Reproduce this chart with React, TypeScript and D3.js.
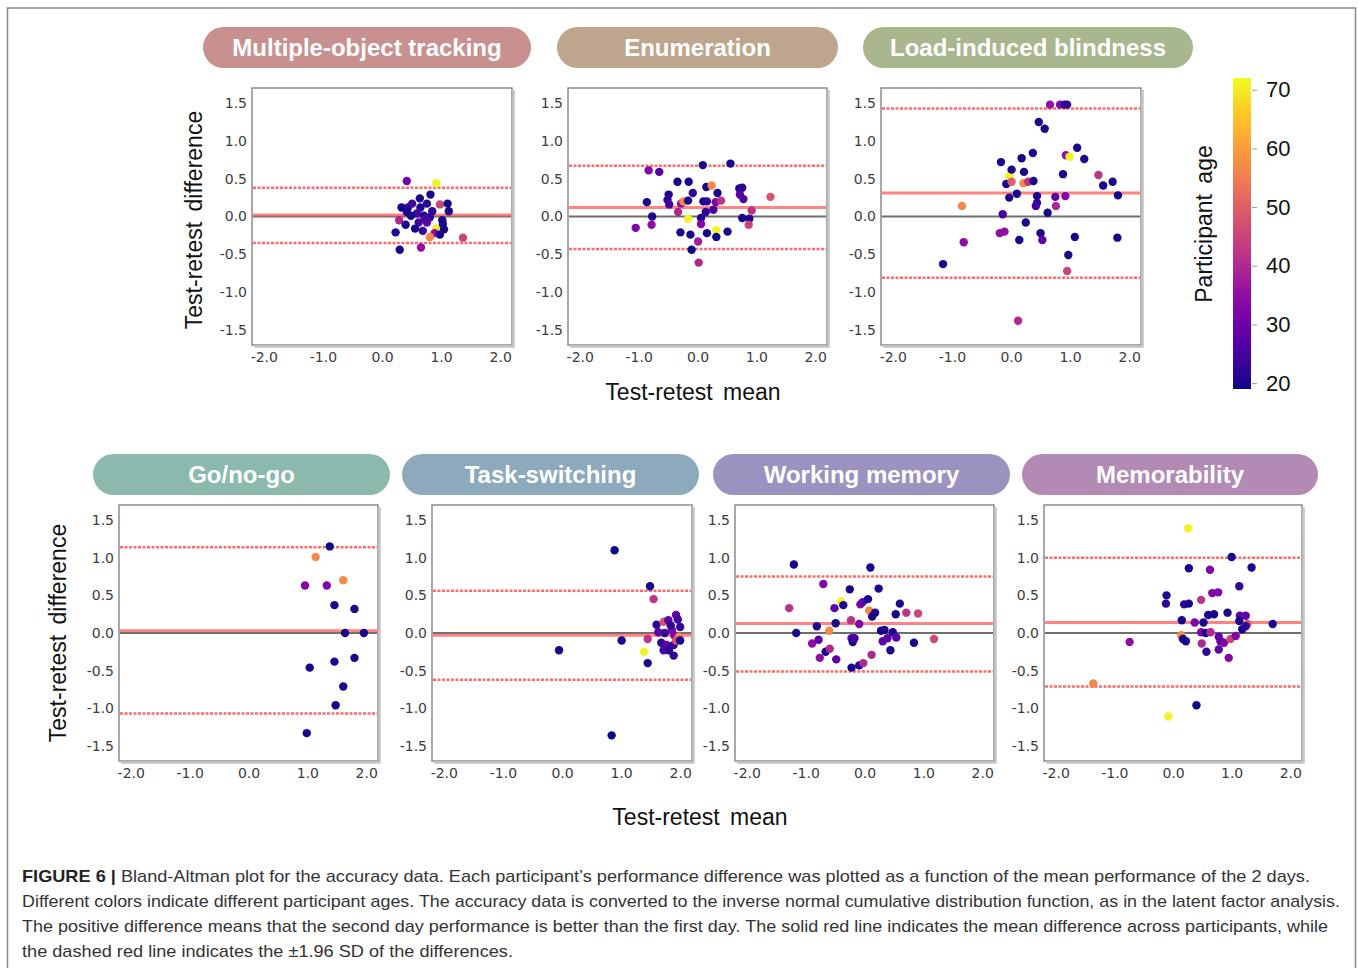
import React, { useEffect, useRef } from 'react';
import * as d3 from 'd3';

const titles = [
  'Multiple-object tracking',
  'Enumeration',
  'Load-induced blindness',
  'Go/no-go',
  'Task-switching',
  'Working memory',
  'Memorability',
];

// each point: [test-retest mean, test-retest difference, participant age]
const motPoints = [
  [0.42, 0.47, 30], [0.92, 0.44, 71], [0.82, 0.29, 20], [0.64, 0.24, 20], [0.33, 0.12, 20],
  [0.44, 0.12, 22], [0.51, 0.17, 25], [0.76, 0.17, 22], [0.98, 0.16, 45], [1.11, 0.17, 20],
  [1.13, 0.07, 20], [0.65, 0.12, 20], [0.85, 0.07, 22], [0.42, 0.06, 20], [0.59, 0.04, 25],
  [0.71, 0.01, 20], [0.81, -0.01, 22], [0.49, 0.01, 20], [1.02, -0.05, 20], [0.29, -0.05, 40],
  [0.40, -0.11, 20], [0.62, -0.08, 25], [0.76, -0.08, 28], [0.56, -0.16, 20], [0.69, -0.19, 22],
  [0.92, -0.16, 71], [0.89, -0.22, 35], [1.05, -0.17, 20], [0.98, -0.24, 20], [0.81, -0.27, 57],
  [0.23, -0.21, 20], [0.30, -0.44, 20], [0.66, -0.41, 35], [1.37, -0.28, 45], [1.03, -0.10, 20],
  [0.73, -0.03, 25],
];

const enumPoints = [
  [-1.05, -0.15, 33], [-0.86, 0.19, 20], [-0.83, 0.61, 33], [-0.65, 0.59, 27], [-0.77, 0.0, 20],
  [-0.78, -0.11, 35], [-0.49, 0.29, 20], [-0.51, 0.22, 22], [-0.48, 0.16, 25], [-0.34, 0.46, 20],
  [-0.33, 0.06, 40], [-0.28, 0.17, 35], [-0.24, 0.2, 57], [-0.29, -0.21, 20], [-0.16, 0.21, 20],
  [-0.15, 0.46, 20], [-0.16, -0.03, 71], [-0.08, 0.31, 22], [-0.12, -0.24, 20], [-0.10, -0.44, 19],
  [0.01, -0.33, 38], [0.02, -0.61, 40], [0.06, -0.02, 20], [0.06, -0.10, 33], [0.09, 0.68, 20],
  [0.10, 0.20, 20], [0.15, 0.39, 20], [0.16, 0.20, 22], [0.14, 0.06, 22], [0.16, -0.22, 20],
  [0.24, 0.41, 57], [0.27, 0.09, 25], [0.31, 0.19, 33], [0.34, 0.31, 20], [0.32, -0.18, 71],
  [0.32, -0.27, 19], [0.40, 0.21, 42], [0.51, -0.20, 20], [0.56, 0.70, 20], [0.71, 0.37, 20],
  [0.76, 0.38, 22], [0.72, 0.29, 28], [0.78, 0.23, 25], [0.76, -0.02, 20], [0.88, -0.03, 20],
  [0.87, -0.11, 45], [0.92, 0.08, 42], [1.24, 0.26, 48],
];

const libPoints = [
  [-1.15, -0.63, 20], [-0.80, -0.34, 35], [-0.83, 0.14, 57], [-0.17, 0.72, 20], [-0.14, 0.03, 25],
  [-0.19, -0.22, 35], [-0.11, -0.20, 35], [-0.08, 0.43, 20], [-0.03, 0.54, 71], [0.01, 0.46, 50],
  [0.01, 0.62, 20], [-0.03, 0.25, 20], [0.10, 0.30, 20], [0.14, -0.31, 20], [0.18, 0.77, 20],
  [0.22, 0.59, 20], [0.21, 0.44, 57], [0.25, -0.08, 20], [0.29, 0.46, 42], [0.38, 0.47, 20],
  [0.37, 0.84, 20], [0.44, 0.27, 20], [0.44, 0.18, 22], [0.42, 0.14, 25], [0.47, 1.25, 20],
  [0.57, 1.16, 20], [0.50, -0.22, 20], [0.53, -0.31, 28], [0.62, 0.05, 20], [0.66, 1.48, 35],
  [0.75, 0.26, 28], [0.76, 0.14, 40], [0.83, 1.48, 33], [0.88, 0.56, 20], [0.91, 1.48, 20],
  [0.95, 1.48, 22], [0.92, 0.27, 33], [0.93, 0.81, 35], [0.99, 0.79, 71], [0.95, -0.72, 45],
  [0.97, -0.51, 20], [1.12, 0.91, 20], [1.08, -0.27, 20], [1.24, 0.76, 20], [1.48, 0.55, 42],
  [1.56, 0.41, 20], [1.72, 0.46, 20], [1.81, 0.28, 20], [1.80, -0.28, 20], [0.12, -1.38, 40],
];

const goPoints = [
  [1.38, 1.15, 19], [1.14, 1.01, 57], [0.96, 0.63, 33], [1.33, 0.63, 33], [1.61, 0.70, 57],
  [1.46, 0.37, 20], [1.80, 0.32, 20], [1.64, 0.0, 20], [1.96, 0.0, 20], [1.04, -0.46, 20],
  [1.46, -0.38, 20], [1.80, -0.33, 20], [1.61, -0.71, 20], [1.48, -0.96, 20], [0.99, -1.33, 20],
];

const tsPoints = [
  [-0.05, -0.23, 20], [0.89, 1.10, 19], [0.84, -1.36, 19], [1.01, -0.10, 20], [1.49, 0.62, 20],
  [1.55, 0.45, 42], [1.45, -0.08, 42], [1.39, -0.25, 71], [1.45, -0.40, 20], [1.60, 0.11, 22],
  [1.72, 0.15, 48], [1.80, 0.17, 28], [1.93, 0.24, 28], [1.96, 0.18, 25], [2.0, 0.08, 22],
  [1.86, 0.04, 33], [1.74, 0.0, 22], [1.90, -0.03, 33], [1.98, -0.05, 57], [1.68, -0.13, 22],
  [1.77, -0.16, 28], [1.89, -0.16, 22], [1.93, -0.10, 48], [2.0, -0.10, 20], [1.72, -0.23, 25],
  [1.81, -0.23, 22], [1.89, -0.30, 22], [1.63, 0.01, 28], [1.84, 0.10, 22],
];

const wmPoints = [
  [-1.20, 0.91, 20], [-1.28, 0.33, 42], [-1.16, 0.0, 20], [-0.89, -0.14, 35], [-0.81, 0.09, 20],
  [-0.78, -0.09, 28], [-0.76, -0.33, 35], [-0.70, 0.65, 33], [-0.66, -0.25, 20], [-0.60, 0.03, 57],
  [-0.59, -0.21, 40], [-0.51, 0.33, 28], [-0.49, 0.13, 20], [-0.48, -0.35, 28], [-0.40, 0.42, 71],
  [-0.36, 0.37, 20], [-0.25, 0.58, 20], [-0.23, 0.17, 42], [-0.22, -0.07, 28], [-0.20, -0.12, 20],
  [-0.17, -0.07, 25], [-0.22, -0.46, 20], [-0.09, -0.43, 20], [-0.09, 0.12, 33], [-0.07, 0.38, 33],
  [-0.03, 0.41, 28], [-0.02, -0.40, 40], [0.06, 0.45, 20], [0.08, 0.30, 57], [0.10, 0.87, 20],
  [0.13, 0.22, 20], [0.12, -0.29, 40], [0.18, 0.27, 20], [0.24, 0.59, 20], [0.28, 0.03, 20],
  [0.34, 0.04, 20], [0.31, -0.11, 28], [0.39, -0.07, 28], [0.44, -0.23, 20], [0.48, 0.01, 20],
  [0.53, 0.25, 20], [0.54, -0.06, 28], [0.60, 0.39, 20], [0.71, 0.27, 42], [0.84, -0.13, 20],
  [0.91, 0.26, 45], [1.18, -0.08, 46],
];

const memPoints = [
  [0.26, 1.39, 71], [1.00, 1.01, 20], [0.27, 0.86, 20], [1.34, 0.87, 20], [0.63, 0.84, 33],
  [1.13, 0.62, 22], [-0.11, 0.50, 20], [-0.12, 0.39, 22], [0.48, 0.44, 42], [0.67, 0.53, 33],
  [0.77, 0.54, 33], [0.19, 0.38, 22], [0.27, 0.39, 20], [0.60, 0.24, 20], [0.70, 0.25, 20],
  [0.93, 0.27, 20], [1.14, 0.23, 28], [1.24, 0.23, 28], [0.15, 0.17, 20], [0.37, 0.14, 33],
  [0.52, 0.14, 20], [1.13, 0.16, 20], [1.27, 0.12, 48], [1.70, 0.12, 20], [1.18, 0.05, 20],
  [1.24, 0.09, 22], [0.48, 0.01, 33], [0.56, 0.0, 20], [0.64, 0.01, 40], [0.14, -0.03, 57],
  [0.17, -0.08, 20], [0.22, -0.11, 20], [0.78, -0.05, 28], [0.81, -0.11, 28], [0.87, -0.13, 33],
  [0.98, -0.08, 45], [1.07, -0.04, 33], [0.49, -0.14, 40], [0.57, -0.25, 22], [0.78, -0.22, 28],
  [0.95, -0.33, 33], [-0.74, -0.12, 35], [-1.36, -0.67, 57], [0.40, -0.96, 19], [-0.08, -1.11, 71],
];

const panelPoints = [motPoints, enumPoints, libPoints, goPoints, tsPoints, wmPoints, memPoints];
const meanDiffs = [0.02, 0.12, 0.31, 0.03, -0.03, 0.125, 0.14];
const upperLimits = [0.38, 0.67, 1.43, 1.14, 0.56, 0.75, 1.0];
const lowerLimits = [-0.35, -0.43, -0.81, -1.07, -0.62, -0.51, -0.71];

const xTicks = [-2, -1, 0, 1, 2];
const yTicks = [-1.5, -1, -0.5, 0, 0.5, 1, 1.5];
const ageTicks = [20, 30, 40, 50, 60, 70];
const ageRange = [19, 72];

const captionLines = [
  'Bland-Altman plot for the accuracy data. Each participant\u2019s performance difference was plotted as a function of the mean performance of the 2 days.',
  'Different colors indicate different participant ages. The accuracy data is converted to the inverse normal cumulative distribution function, as in the latent factor analysis.',
  'The positive difference means that the second day performance is better than the first day. The solid red line indicates the mean difference across participants, while',
  'the dashed red line indicates the \u00b11.96 SD of the differences.',
];

// layout: plot box and title pill for each panel
const layout = [
  { x: 252, y: 88, w: 260, h: 257, px0: 203, px1: 531, py: 27, fill: '#c8918f' },
  { x: 568, y: 88, w: 259, h: 257, px0: 557, px1: 838, py: 27, fill: '#bea58d' },
  { x: 881, y: 88, w: 260, h: 257, px0: 863, px1: 1193, py: 27, fill: '#a9b78f' },
  { x: 119, y: 505, w: 259, h: 256, px0: 93, px1: 390, py: 454, fill: '#8bb9ad' },
  { x: 432, y: 505, w: 260, h: 256, px0: 402, px1: 699, py: 454, fill: '#8caabb' },
  { x: 735, y: 505, w: 259, h: 256, px0: 713, px1: 1010, py: 454, fill: '#9b92c0' },
  { x: 1044, y: 505, w: 258, h: 256, px0: 1022, px1: 1318, py: 454, fill: '#b28ab4' },
];
const captionWidths = [1288, 1318, 1306, 491];

const App = () => {
  const svgRef = useRef(null);

  useEffect(() => {
    const svg = d3.select(svgRef.current);
    svg.selectAll('*').remove();

    const color = d3.scaleSequential(d3.interpolatePlasma).domain(ageRange);

    // outer frame
    svg.append('rect')
      .attr('x', 7.5).attr('y', 8).attr('width', 1348).attr('height', 980)
      .attr('fill', 'none').attr('stroke', '#8a8a8a').attr('stroke-width', 1.5);

    layout.forEach((p, i) => {
      const g = svg.append('g');
      const x = d3.scaleLinear().domain([-2.2, 2.2]).range([p.x, p.x + p.w]);
      const y = d3.scaleLinear().domain([-1.7, 1.7]).range([p.y + p.h, p.y]);

      // title pill
      const ph = 41;
      g.append('rect')
        .attr('x', p.px0).attr('y', p.py).attr('width', p.px1 - p.px0).attr('height', ph)
        .attr('rx', ph / 2).attr('fill', p.fill);
      g.append('text')
        .attr('x', (p.px0 + p.px1) / 2).attr('y', p.py + ph / 2 + 8.5)
        .attr('text-anchor', 'middle')
        .attr('font-family', 'Liberation Sans, Arial, sans-serif')
        .attr('font-weight', 'bold').attr('font-size', 24)
        .attr('fill', '#ffffff')
        .text(titles[i]);

      // plot box
      g.append('rect')
        .attr('x', p.x).attr('y', p.y).attr('width', p.w).attr('height', p.h)
        .attr('fill', '#fff').attr('stroke', '#8c8c8c').attr('stroke-width', 1.5);
      g.append('path')
        .attr('d', `M${p.x + p.w + 1.5},${p.y + 2} V${p.y + p.h + 1.5} H${p.x + 2}`)
        .attr('fill', 'none').attr('stroke', '#c4c4c4').attr('stroke-width', 2.5);

      // axes
      const xAxis = d3.axisBottom(x).tickValues(xTicks).tickSize(0).tickPadding(7)
        .tickFormat(d => d.toFixed(1));
      const yAxis = d3.axisLeft(y).tickValues(yTicks).tickSize(0).tickPadding(5)
        .tickFormat(d => d.toFixed(1));
      const gx = g.append('g').attr('transform', `translate(0,${p.y + p.h})`).call(xAxis);
      const gy = g.append('g').attr('transform', `translate(${p.x},0)`).call(yAxis);
      [gx, gy].forEach(a => {
        a.select('.domain').remove();
        a.selectAll('text')
          .attr('font-family', 'DejaVu Sans, sans-serif')
          .attr('font-size', 14)
          .attr('fill', '#3c3c3c');
      });

      // zero line, mean line, limits of agreement
      const x0 = p.x + 1, x1 = p.x + p.w - 1;
      g.append('line')
        .attr('x1', x0).attr('x2', x1).attr('y1', y(0)).attr('y2', y(0))
        .attr('stroke', '#6e6e6e').attr('stroke-width', 2);
      g.append('line')
        .attr('x1', x0).attr('x2', x1).attr('y1', y(meanDiffs[i])).attr('y2', y(meanDiffs[i]))
        .attr('stroke', '#ff5a5a').attr('stroke-opacity', 0.75).attr('stroke-width', 3);
      [upperLimits[i], lowerLimits[i]].forEach(v => {
        g.append('line')
          .attr('x1', x0).attr('x2', x1).attr('y1', y(v)).attr('y2', y(v))
          .attr('stroke', '#ff6b6b').attr('stroke-width', 2.5)
          .attr('stroke-dasharray', '3,1.5');
      });

      // participants
      g.selectAll('circle')
        .data(panelPoints[i])
        .join('circle')
        .attr('cx', d => x(d[0]))
        .attr('cy', d => y(d[1]))
        .attr('r', 4.2)
        .attr('fill', d => color(d[2]));
    });

    // axis labels
    const label = (tx, ty, rot, txt) => {
      svg.append('text')
        .attr('transform', `translate(${tx},${ty}) rotate(${rot})`)
        .attr('text-anchor', 'middle')
        .attr('font-family', 'Liberation Sans, Arial, sans-serif')
        .attr('font-size', 23).attr('word-spacing', 4)
        .attr('fill', '#111')
        .text(txt);
    };
    label(202, 220, -90, 'Test-retest difference');
    label(66, 633, -90, 'Test-retest difference');
    label(693, 400, 0, 'Test-retest mean');
    label(700, 825, 0, 'Test-retest mean');

    // colorbar
    const cb = { x: 1233, w: 18 };
    const ageY = d3.scaleLinear().domain(ageRange).range([389, 78]);
    const defs = svg.append('defs');
    const grad = defs.append('linearGradient')
      .attr('id', 'plasma').attr('x1', 0).attr('y1', 1).attr('x2', 0).attr('y2', 0);
    d3.range(0, 1.0001, 0.05).forEach(t => {
      grad.append('stop').attr('offset', t).attr('stop-color', d3.interpolatePlasma(t));
    });
    svg.append('rect')
      .attr('x', cb.x).attr('y', ageY(ageRange[1]))
      .attr('width', cb.w).attr('height', ageY(ageRange[0]) - ageY(ageRange[1]))
      .attr('fill', 'url(#plasma)');
    const cAxis = d3.axisRight(ageY).tickValues(ageTicks).tickSize(5).tickPadding(9);
    const gc = svg.append('g').attr('transform', `translate(${cb.x + cb.w + 1},0)`).call(cAxis);
    gc.select('.domain').remove();
    gc.selectAll('line').attr('stroke', '#999');
    gc.selectAll('text')
      .attr('font-family', 'Liberation Sans, Arial, sans-serif')
      .attr('font-size', 22).attr('fill', '#111');
    label(1212, 224, -90, 'Participant age');

    // caption
    captionLines.forEach((line, i) => {
      const t = svg.append('text')
        .attr('x', 22).attr('y', 882 + i * 25)
        .attr('font-family', 'Liberation Sans, Arial, sans-serif')
        .attr('font-size', 17).attr('fill', '#333')
        .attr('textLength', captionWidths[i]).attr('lengthAdjust', 'spacingAndGlyphs');
      if (i === 0) {
        t.append('tspan').attr('font-weight', 'bold').attr('fill', '#222').text('FIGURE 6 | ');
      }
      t.append('tspan').text(line);
    });
  }, []);

  return (
    <svg
      ref={svgRef}
      width={1358}
      height={968}
      style={{ position: 'absolute', left: 0, top: 0, background: '#fff' }}
    />
  );
};

export default App;
